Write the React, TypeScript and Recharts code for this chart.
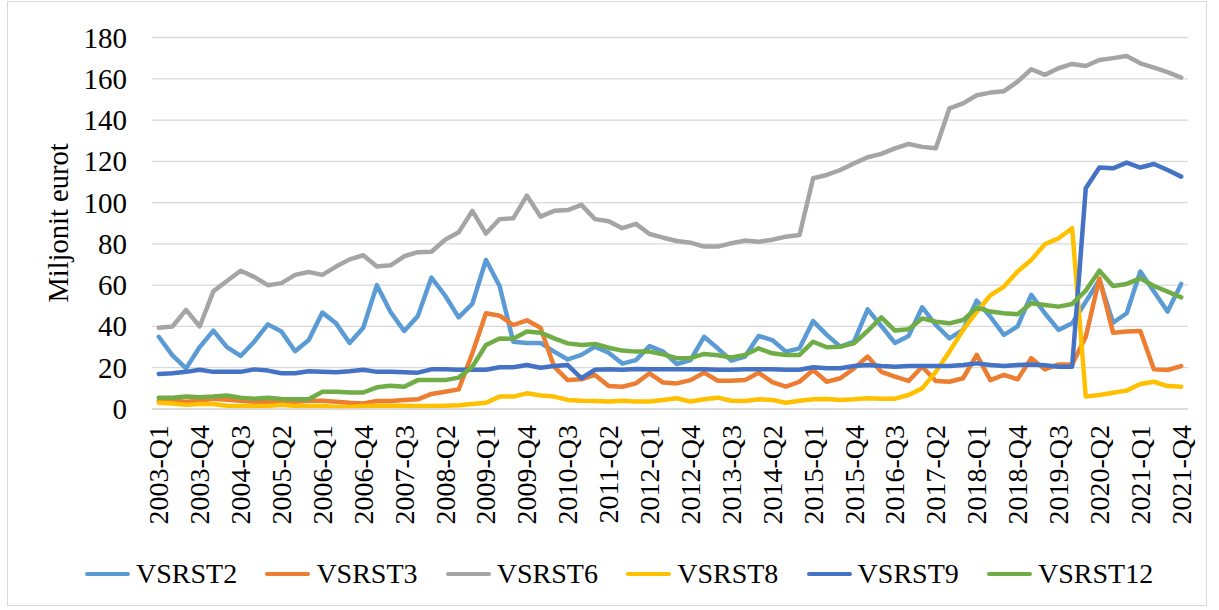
import { CartesianGrid, Line, LineChart, XAxis, YAxis } from "recharts";

const years = [
  2003, 2004, 2005, 2006, 2007, 2008, 2009, 2010, 2011, 2012, 2013, 2014, 2015,
  2016, 2017, 2018, 2019, 2020, 2021,
];
const quarters = ["Q1", "Q2", "Q3", "Q4"];
const categories = years.flatMap((y) => quarters.map((q) => `${y}-${q}`));

const vsrst2 = [
  35, 26, 19.7, 30, 38, 30, 25.7, 32.6, 41, 37.5, 28, 33.4, 46.7, 41.5, 32, 39.4,
  60, 47, 37.8, 45, 63.7, 55, 44.4, 51, 72.2, 59.6, 32.6, 32, 32, 27.8, 24, 26.2,
  30.2, 27.3, 22, 23.7, 30.5, 27.8, 21.8, 23.7, 35, 29.4, 23.4, 25.4, 35.4, 33.4,
  27.8, 29.4, 42.6, 35.9, 30.2, 32.6, 48.3, 40.2, 32, 35.4, 49.3, 40.7, 34.2, 38.3,
  52.5, 44.7, 35.9, 40, 55.3, 46.4, 38.3, 41.5, 52, 62.5, 41.8, 46.4, 66.6, 56.9,
  47.2, 60.6,
];
const vsrst3 = [
  4, 4, 3.5, 4, 5, 4.5, 4, 3.5, 3.5, 3.5, 3.5, 4, 4, 3.5, 3, 2.7, 3.9, 3.9, 4.4,
  4.7, 7.3, 8.4, 9.5, 27, 46.4, 45.2, 40.7, 43, 39.4, 20.5, 14, 14.4, 16.5, 11.1,
  10.8, 12.4, 17.3, 12.8, 12.4, 14, 17.6, 13.7, 13.7, 14, 17.6, 13, 10.8, 13.2,
  18.9, 13.2, 14.9, 19.7, 25.4, 18, 15.7, 13.6, 20.5, 13.6, 13.2, 14.9, 26.2, 14,
  16.5, 14.4, 24.6, 19.2, 21.6, 21.6, 35, 63.3, 37, 37.5, 37.8, 19.2, 18.9, 20.8,
];
const vsrst6 = [
  39.4, 40, 48, 40, 57, 62, 67, 64, 60, 61, 65, 66.4, 65, 69, 72.5, 74.5, 69,
  69.6, 74, 76, 76.2, 82, 85.6, 96, 85, 92, 92.4, 103.4, 93.2, 96, 96.4, 98.9, 92,
  91, 87.6, 89.7, 84.8, 83, 81.4, 80.6, 78.7, 78.7, 80.3, 81.6, 81, 82, 83.5,
  84.3, 111.8, 113.4, 115.8, 119, 122, 123.6, 126.3, 128.4, 127, 126.3, 145.7,
  148.1, 152, 153.3, 154, 158.6, 164.6, 161.9, 165.1, 167.2, 166.2, 169.1, 170,
  171, 167.5, 165.4, 163.2, 160.6,
];
const vsrst8 = [
  3, 2.7, 2, 2.4, 2.4, 1.6, 1.5, 1.5, 1.5, 2, 1.5, 1.5, 1.5, 1, 1, 1.5, 1.6, 1.6,
  1.6, 1.5, 1.5, 1.6, 1.8, 2.4, 3, 6, 6, 7.6, 6.5, 6, 4.4, 4, 3.9, 3.6, 4, 3.6,
  3.6, 4.4, 5.2, 3.6, 4.7, 5.5, 4, 3.9, 4.7, 4.4, 3, 4, 4.7, 4.8, 4.4, 4.7, 5.2,
  5, 5, 6.8, 10, 18, 27.8, 38.3, 47, 55.1, 59.3, 66.6, 72.2, 79.8, 82.7, 87.6, 6,
  6.8, 7.9, 8.9, 12.1, 13.2, 11.1, 10.8,
];
const vsrst9 = [
  17, 17.3, 18, 19, 18, 18, 18, 19.2, 18.6, 17.3, 17.3, 18.3, 18, 17.8, 18.3, 19,
  18, 18, 17.8, 17.6, 19.2, 19.2, 19, 19, 19, 20.2, 20.2, 21.3, 20, 20.8, 21.3,
  14.9, 19, 19.2, 19, 19.4, 19.2, 19.2, 19.2, 19.2, 19.2, 19, 19, 19.2, 19.2, 19.2,
  19, 19, 20.2, 19.7, 19.7, 20.8, 21.3, 20.8, 20.5, 20.8, 20.8, 20.8, 20.8, 21.3,
  22.1, 21.3, 20.8, 21.3, 21.6, 21.2, 20.5, 20.5, 107, 117, 116.6, 119.4, 117,
  118.7, 115.8, 112.6,
];
const vsrst12 = [
  5.5, 5.5, 6, 5.7, 6, 6.5, 5.5, 5, 5.5, 4.8, 4.7, 4.7, 8.4, 8.4, 8, 8, 10.5,
  11.3, 10.8, 14, 14, 14, 15.2, 20.5, 31, 34.2, 34, 37.5, 37, 34.2, 31.8, 31, 31.5,
  29.7, 28.3, 27.8, 27.8, 26.5, 24.6, 24.6, 26.7, 26, 25, 26.2, 29.4, 27, 26.2,
  26.2, 32.6, 29.9, 30.2, 31.8, 37.8, 44.4, 38, 38.6, 43.9, 42.3, 41.5, 43.1, 49.1,
  47.2, 46.4, 45.9, 51.2, 50.4, 49.6, 50.9, 57.4, 67, 59.6, 60.6, 63.3, 59.6, 56.9,
  54.1,
];

const seriesNames = ["VSRST2", "VSRST3", "VSRST6", "VSRST8", "VSRST9", "VSRST12"];
const seriesValues = [vsrst2, vsrst3, vsrst6, vsrst8, vsrst9, vsrst12];
const seriesColors = ["#5B9BD5", "#ED7D31", "#A5A5A5", "#FFC000", "#4472C4", "#70AD47"];
const yTicks = [0, 20, 40, 60, 80, 100, 120, 140, 160, 180];

const data = categories.map((period, i) => {
  const row: Record<string, string | number> = { period };
  seriesNames.forEach((name, s) => {
    row[name] = seriesValues[s][i];
  });
  return row;
});

const FONT = '"Liberation Serif", "Times New Roman", serif';

const XTick = ({ x, y, payload }: any) => (
  <text
    transform={`translate(${x},${y + 16}) rotate(-90)`}
    textAnchor="end"
    dominantBaseline="central"
    fontSize={28}
    fontFamily={FONT}
    fill="#000"
  >
    {payload.value}
  </text>
);

const YTick = ({ x, y, payload }: any) => (
  <text
    x={x}
    y={y}
    textAnchor="end"
    dominantBaseline="central"
    fontSize={29}
    fontFamily={FONT}
    fill="#000"
  >
    {payload.value}
  </text>
);

export default function App() {
  return (
    <div style={{ position: "absolute", left: 0, top: 0, width: 1219, height: 610, background: "#fff", fontFamily: FONT }}>
      <div
        style={{
          position: "absolute",
          left: 7,
          top: 1,
          width: 1200,
          height: 605,
          border: "1px solid #d9d9d9",
          boxSizing: "border-box",
          pointerEvents: "none",
        }}
      />
      <LineChart
        width={1219}
        height={610}
        data={data}
        margin={{ top: 37.5, right: 31, left: 12, bottom: 71 }}
      >
        <CartesianGrid vertical={false} stroke="#d9d9d9" strokeWidth={1.3} />
        <XAxis
          dataKey="period"
          interval={2}
          height={130}
          padding={{ left: 6.8, right: 6.8 }}
          tickLine={false}
          tickSize={0}
          tickMargin={0}
          axisLine={{ stroke: "#d9d9d9", strokeWidth: 1.3 }}
          tick={<XTick />}
        />
        <YAxis
          width={140}
          domain={[0, 180]}
          ticks={yTicks}
          axisLine={false}
          tickLine={false}
          tickSize={0}
          tickMargin={25}
          tick={<YTick />}
        />
        {seriesNames.map((name, s) => (
          <Line
            key={name}
            type="linear"
            dataKey={name}
            stroke={seriesColors[s]}
            strokeWidth={4.5}
            strokeLinejoin="round"
            strokeLinecap="round"
            dot={false}
            activeDot={false}
            isAnimationActive={false}
          />
        ))}
      </LineChart>
      <div
        style={{
          position: "absolute",
          left: 59,
          top: 223,
          transform: "translate(-50%, -50%) rotate(-90deg)",
          fontSize: 28.5,
          whiteSpace: "nowrap",
          color: "#000",
        }}
      >
        Miljonit eurot
      </div>
      {seriesNames.map((name, s) => (
        <div
          key={name}
          style={{
            position: "absolute",
            left: 85 + 180.4 * s,
            top: 574,
            transform: "translateY(-50%)",
            display: "flex",
            alignItems: "center",
            fontSize: 28,
            whiteSpace: "nowrap",
            color: "#000",
          }}
        >
          <span
            style={{
              display: "inline-block",
              width: 45,
              height: 4.5,
              borderRadius: 2,
              background: seriesColors[s],
              marginRight: 6,
            }}
          />
          {name}
        </div>
      ))}
    </div>
  );
}
